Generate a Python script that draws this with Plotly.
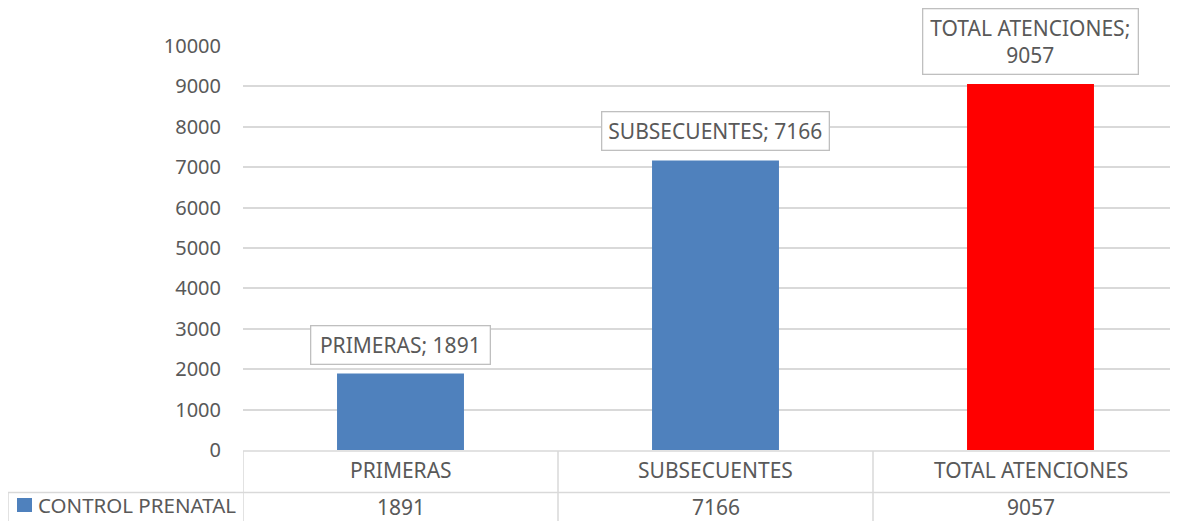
import plotly.graph_objects as go

categories = ["PRIMERAS", "SUBSECUENTES", "TOTAL ATENCIONES"]
values = [1891, 7166, 9057]
bar_colors = ["#4F81BD", "#4F81BD", "#FF0000"]
series_name = "CONTROL PRENATAL"
y_ticks = list(range(0, 10001, 1000))

# page is offset by the 8px body margin; figure runs past the right edge
OFF = 8
W, H = 1200, 521 - OFF
COL = 315  # px per category column
PLOT_L = 243
FONT = "Noto Sans"
GREY = "#595959"
LINE = "#D9D9D9"


def px_x(p):
    return (p - OFF) / W


def px_y(p):
    return (H - (p - OFF)) / H


xpos = list(range(len(categories)))
x_hi = -0.5 + (W + OFF - PLOT_L) / COL

fig = go.Figure()
fig.add_trace(go.Bar(
    x=xpos, y=values, marker=dict(color=bar_colors, line=dict(width=0)),
    width=0.403, name=series_name, showlegend=False, hoverinfo="skip",
))

annotations = []
for i, (c, v) in enumerate(zip(categories, values)):
    lines = [f"{c};", str(v)] if len(c) > 15 else [f"{c}; {v}"]
    nchar = max(len(s) for s in lines)
    annotations.append(dict(
        x=i, y=v, xref="x", yref="y", text="<br>".join(lines), showarrow=False,
        yanchor="bottom", yshift=9, font=dict(family=FONT, size=21, color=GREY),
        bgcolor="white", bordercolor="#BFBFBF", borderwidth=1.3, borderpad=5,
        width=12 * nchar, height=27 * len(lines),
    ))
    annotations.append(dict(
        x=i, y=px_y(470), xref="x", yref="paper", text=c, showarrow=False,
        yanchor="middle", font=dict(family=FONT, size=21, color=GREY),
    ))
    annotations.append(dict(
        x=i, y=px_y(507), xref="x", yref="paper", text=str(v), showarrow=False,
        yanchor="middle", font=dict(family=FONT, size=21, color=GREY),
    ))

annotations.append(dict(
    x=px_x(36), y=px_y(505), xref="paper", yref="paper", text=series_name,
    showarrow=False, xanchor="left", yanchor="middle",
    font=dict(family=FONT, size=20.5, color=GREY),
))

shapes = []
ln = dict(color=LINE, width=1.5)
shapes.append(dict(type="line", xref="paper", yref="paper", x0=px_x(PLOT_L), x1=1,
                   y0=px_y(451), y1=px_y(451), line=ln))
shapes.append(dict(type="line", xref="paper", yref="paper", x0=px_x(8), x1=1,
                   y0=px_y(492.5), y1=px_y(492.5), line=ln))
shapes.append(dict(type="line", xref="paper", yref="paper", x0=px_x(8), x1=px_x(8),
                   y0=px_y(492.5), y1=0, line=ln))
for b in [-0.5, 0.5, 1.5, 2.5]:
    shapes.append(dict(type="line", xref="x", yref="paper", x0=b, x1=b,
                       y0=px_y(451), y1=0, line=ln))
shapes.append(dict(type="rect", xref="paper", yref="paper",
                   x0=px_x(17), x1=px_x(32), y0=px_y(512), y1=px_y(498),
                   fillcolor="#4F81BD", line=dict(width=0)))

fig.update_layout(
    template="none",
    width=W, height=H, margin=dict(l=0, r=0, t=0, b=0),
    paper_bgcolor="white", plot_bgcolor="white",
    xaxis=dict(domain=[px_x(PLOT_L), 1], range=[-0.5, x_hi], showticklabels=False,
               showgrid=False, zeroline=False, showline=False, fixedrange=True),
    yaxis=dict(domain=[px_y(450), px_y(46)], range=[0, 10000], tickvals=y_ticks,
               ticktext=[str(t) for t in y_ticks], showgrid=True, gridcolor=LINE,
               gridwidth=1.5, zeroline=False, showline=False, ticks="",
               ticklabelstandoff=21,
               tickfont=dict(family=FONT, size=20, color=GREY)),
    annotations=annotations, shapes=shapes, showlegend=False,
)

fig.write_html("out.html")
